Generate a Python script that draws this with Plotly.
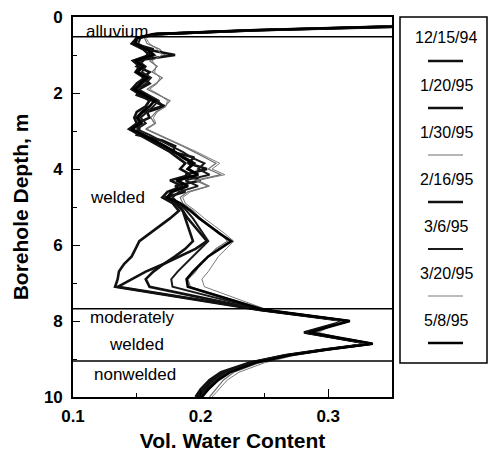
import plotly.graph_objects as go

# Neutron-probe depths (m) shared by every profile
DEPTH_M = [
    0.10, 0.25, 0.35, 0.45, 0.55, 0.70, 0.85, 1.00, 1.15, 1.30, 1.45, 1.60,
    1.75, 1.90, 2.05, 2.20, 2.35, 2.50, 2.65, 2.80, 2.95, 3.10, 3.25, 3.40,
    3.55, 3.70, 3.85, 4.00, 4.15, 4.30, 4.45, 4.60, 4.75,
    4.90, 5.10, 5.30, 5.50, 5.70, 5.90, 6.10, 6.30, 6.50, 6.70, 6.90, 7.10,
    7.70, 8.00, 8.30, 8.60, 8.75, 8.90, 9.10, 9.35, 9.55, 9.80, 10.00,
]

DATES = ["12/15/94", "1/20/95", "1/30/95", "2/16/95", "3/6/95", "3/20/95", "5/8/95"]

# Volumetric water content for each survey date
VWC_121594 = [
    0.450, 0.350, 0.245, 0.165, 0.150, 0.146, 0.155, 0.160, 0.147, 0.152, 0.149, 0.156,
    0.150, 0.146, 0.153, 0.160, 0.157, 0.150, 0.148, 0.150, 0.144, 0.152, 0.160, 0.168,
    0.176, 0.182, 0.188, 0.184, 0.192, 0.176, 0.186, 0.174, 0.170,
    0.178, 0.183, 0.176, 0.168, 0.160, 0.152, 0.149, 0.146, 0.140, 0.136, 0.135, 0.133,
    0.245, 0.313, 0.281, 0.332, 0.297, 0.266, 0.238, 0.216, 0.207, 0.200, 0.196,
]
VWC_012095 = [
    0.440, 0.360, 0.245, 0.165, 0.150, 0.147, 0.163, 0.158, 0.155, 0.150, 0.160, 0.155,
    0.160, 0.152, 0.150, 0.162, 0.172, 0.158, 0.160, 0.150, 0.152, 0.150, 0.170, 0.180,
    0.178, 0.195, 0.190, 0.205, 0.188, 0.200, 0.180, 0.188, 0.172,
    0.182, 0.186, 0.190, 0.195, 0.200, 0.205, 0.196, 0.184, 0.171, 0.157, 0.146, 0.135,
    0.247, 0.315, 0.283, 0.334, 0.299, 0.268, 0.240, 0.219, 0.210, 0.203, 0.198,
]
VWC_013095 = [
    0.410, 0.340, 0.235, 0.163, 0.156, 0.158, 0.168, 0.172, 0.160, 0.166, 0.162, 0.170,
    0.165, 0.158, 0.167, 0.176, 0.172, 0.165, 0.161, 0.164, 0.157, 0.167, 0.177, 0.186,
    0.195, 0.203, 0.212, 0.206, 0.216, 0.196, 0.206, 0.190, 0.184,
    0.186, 0.194, 0.200, 0.208, 0.216, 0.221, 0.212, 0.206, 0.200, 0.196, 0.190, 0.192,
    0.250, 0.312, 0.290, 0.330, 0.300, 0.272, 0.246, 0.226, 0.218, 0.212, 0.207,
]
VWC_021695 = [
    0.440, 0.355, 0.240, 0.166, 0.151, 0.148, 0.157, 0.180, 0.149, 0.155, 0.151, 0.159,
    0.154, 0.149, 0.157, 0.166, 0.170, 0.155, 0.151, 0.154, 0.146, 0.156, 0.164, 0.172,
    0.180, 0.187, 0.195, 0.190, 0.198, 0.182, 0.190, 0.178, 0.175,
    0.180, 0.186, 0.188, 0.190, 0.192, 0.194, 0.188, 0.180, 0.171, 0.163, 0.157, 0.160,
    0.246, 0.316, 0.282, 0.333, 0.298, 0.267, 0.239, 0.218, 0.209, 0.202, 0.197,
]
VWC_030695 = [
    0.450, 0.350, 0.242, 0.164, 0.153, 0.151, 0.159, 0.164, 0.151, 0.157, 0.154, 0.161,
    0.157, 0.151, 0.159, 0.167, 0.163, 0.158, 0.153, 0.157, 0.150, 0.160, 0.168, 0.177,
    0.186, 0.193, 0.203, 0.198, 0.207, 0.188, 0.198, 0.183, 0.178,
    0.183, 0.189, 0.194, 0.198, 0.202, 0.206, 0.200, 0.194, 0.188, 0.182, 0.177, 0.178,
    0.248, 0.314, 0.284, 0.331, 0.299, 0.269, 0.242, 0.221, 0.212, 0.205, 0.200,
]
VWC_032095 = [
    0.410, 0.335, 0.232, 0.164, 0.157, 0.160, 0.166, 0.170, 0.162, 0.165, 0.164, 0.168,
    0.166, 0.160, 0.168, 0.174, 0.173, 0.166, 0.163, 0.165, 0.158, 0.168, 0.178, 0.188,
    0.197, 0.206, 0.215, 0.209, 0.219, 0.198, 0.207, 0.192, 0.186,
    0.188, 0.196, 0.203, 0.211, 0.219, 0.226, 0.220, 0.214, 0.210, 0.206, 0.201, 0.203,
    0.252, 0.311, 0.292, 0.329, 0.301, 0.274, 0.250, 0.230, 0.221, 0.214, 0.209,
]
VWC_050895 = [
    0.440, 0.345, 0.238, 0.163, 0.150, 0.149, 0.158, 0.163, 0.149, 0.155, 0.150, 0.158,
    0.153, 0.148, 0.156, 0.164, 0.160, 0.154, 0.150, 0.153, 0.146, 0.155, 0.163, 0.172,
    0.180, 0.186, 0.194, 0.190, 0.198, 0.181, 0.190, 0.177, 0.174,
    0.184, 0.192, 0.199, 0.207, 0.215, 0.224, 0.215, 0.206, 0.200, 0.194, 0.189, 0.190,
    0.249, 0.317, 0.285, 0.335, 0.300, 0.270, 0.243, 0.223, 0.214, 0.206, 0.201,
]

PROFILES = [VWC_121594, VWC_012095, VWC_013095, VWC_021695, VWC_030695, VWC_032095, VWC_050895]

# Depths of the lithologic contacts (m)
UNIT_CONTACTS_M = [0.52, 7.68, 9.05]

X_TICKS = [0.1, 0.2, 0.3]
Y_TICKS = [0, 2, 4, 6, 8, 10]

# Line styling per survey
LINE_COLORS = ["#111111", "#111111", "#6e6e6e", "#111111", "#1a1a1a", "#7a7a7a", "#000000"]
LINE_WIDTHS = [2.6, 2.6, 1.2, 2.6, 2.0, 1.0, 2.6]

FONT = "Liberation Sans, Arial, Helvetica, sans-serif"

fig = go.Figure()

for date, vwc, color, width in zip(DATES, PROFILES, LINE_COLORS, LINE_WIDTHS):
    fig.add_trace(go.Scatter(
        x=vwc, y=DEPTH_M, mode="lines", name=date,
        line=dict(color=color, width=width),
        showlegend=False,
    ))

# Horizontal contacts between units
for d in UNIT_CONTACTS_M:
    fig.add_shape(type="line", xref="paper", x0=0, x1=1, yref="y", y0=d, y1=d,
                  line=dict(color="black", width=1.5))

# Unit names
unit_labels = [
    ("alluvium", 0.1085, 0.39),
    ("welded", 0.1118, 4.74),
    ("moderately", 0.1118, 7.92),
    ("welded", 0.1267, 8.63),
    ("nonwelded", 0.1149, 9.42),
]
for text, x, y in unit_labels:
    fig.add_annotation(x=x, y=y, text=text, showarrow=False, xanchor="left",
                       yanchor="middle", font=dict(family=FONT, size=17, color="black"))

# Legend panel: date above a short line sample
plot_left, plot_right, plot_top, plot_bottom = 73, 392, 17, 397
def px_to_paper_x(px):
    return (px - plot_left) / (plot_right - plot_left)
def px_to_paper_y(py):
    return (plot_bottom - py) / (plot_bottom - plot_top)

fig.add_shape(type="rect", xref="paper", yref="paper",
              x0=px_to_paper_x(400), x1=px_to_paper_x(487),
              y0=px_to_paper_y(363), y1=px_to_paper_y(17),
              line=dict(color="black", width=1.5), fillcolor="white")
for i, (date, color, width) in enumerate(zip(DATES, LINE_COLORS, LINE_WIDTHS)):
    ly = 38 + 47 * i
    sy = 61 + 47 * i
    fig.add_annotation(xref="paper", yref="paper", x=px_to_paper_x(446), y=px_to_paper_y(ly),
                       text=date, showarrow=False, xanchor="center", yanchor="middle",
                       font=dict(family=FONT, size=16, color="black"))
    fig.add_shape(type="line", xref="paper", yref="paper",
                  x0=px_to_paper_x(428), x1=px_to_paper_x(463),
                  y0=px_to_paper_y(sy), y1=px_to_paper_y(sy),
                  line=dict(color=color, width=max(width, 1.2)))

fig.update_xaxes(
    range=[0.1, 0.35], tickvals=X_TICKS, ticktext=[f"{v:.1f}" for v in X_TICKS],
    ticks="inside", ticklen=8, tickwidth=1.2, tickcolor="black",
    minor=dict(ticks="inside", dtick=0.05, tick0=0.1, ticklen=4, tickcolor="black"),
    showline=True, mirror=True, linecolor="black", linewidth=1.6,
    showgrid=False, zeroline=False,
    tickfont=dict(family=FONT, size=17, color="black", weight="bold"),
    ticklabelstandoff=3,
    title=dict(text="Vol. Water Content", standoff=9,
               font=dict(family=FONT, size=21, color="black", weight="bold")),
)
fig.update_yaxes(
    range=[10, 0], tickvals=Y_TICKS,
    ticks="inside", ticklen=7, tickwidth=1.2, tickcolor="black",
    minor=dict(ticks="inside", dtick=1, tick0=0, ticklen=4, tickcolor="black"),
    showline=True, mirror=True, linecolor="black", linewidth=1.6,
    showgrid=False, zeroline=False,
    tickfont=dict(family=FONT, size=17, color="black", weight="bold"),
    ticklabelstandoff=5,
    title=dict(text="Borehole Depth, m", standoff=10,
               font=dict(family=FONT, size=21, color="black", weight="bold")),
)

fig.update_layout(
    width=493, height=452,
    margin=dict(l=73, r=101, t=17, b=55, autoexpand=False),
    paper_bgcolor="white", plot_bgcolor="white",
    showlegend=False,
)

fig.write_html("out.html")
